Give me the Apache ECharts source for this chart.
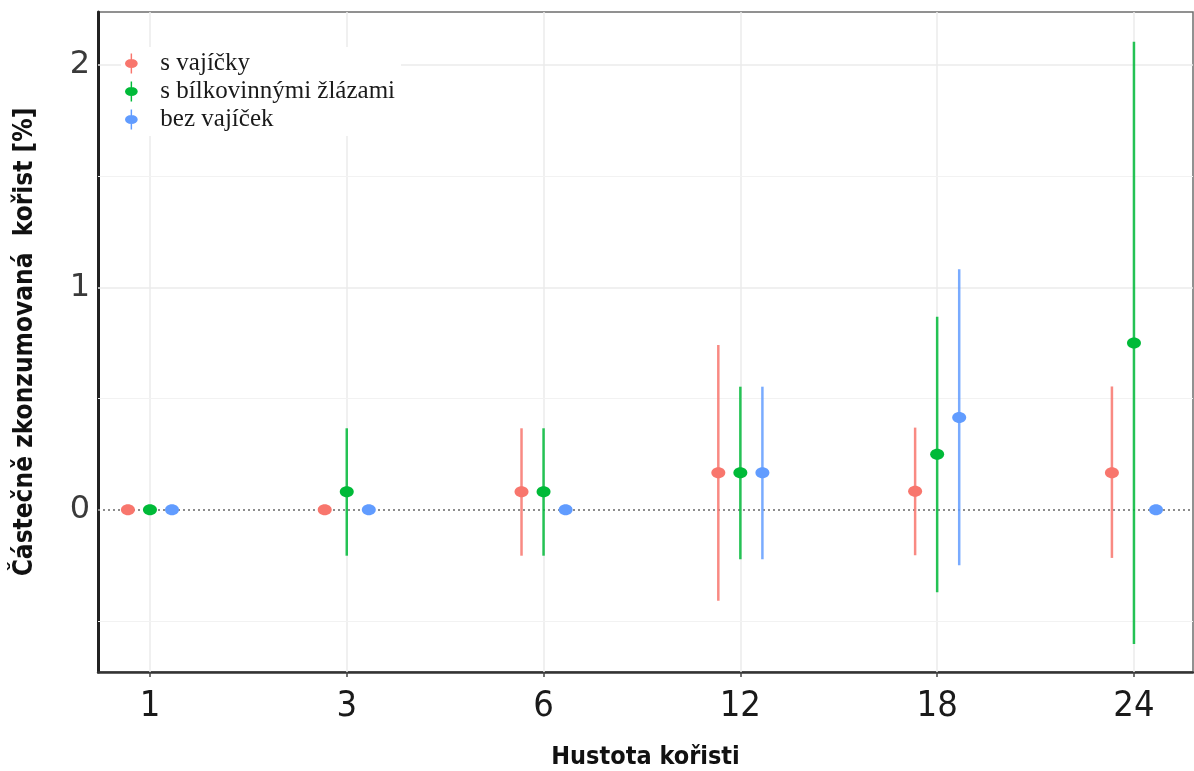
<!DOCTYPE html>
<html>
<head>
<meta charset="utf-8">
<script src="https://cdn.jsdelivr.net/npm/echarts@6/dist/echarts.min.js"></script>
<style>
  html, body { margin: 0; padding: 0; background: #fff; }
  #chart { width: 1194px; height: 771px; }
</style>
</head>
<body>
<div id="chart"></div>
<script>
// hustota koristi (kategorie na ose x)
const categories = ['1', '3', '6', '12', '18', '24'];
const groupNames = ['s vajíčky', 's bílkovinnými žlázami', 'bez vajíček'];
const groupColors = ['#F8766D', '#00BA38', '#619CFF'];

// odhad + interval (null = bez intervalu)
const vajickyMean = [0, 0, 0.081, 0.166, 0.083, 0.166];
const vajickyLow  = [null, null, -0.207, -0.41, -0.205, -0.217];
const vajickyHigh = [null, null, 0.366, 0.741, 0.369, 0.554];

const zlazyMean = [0, 0.081, 0.081, 0.166, 0.249, 0.75];
const zlazyLow  = [null, -0.207, -0.207, -0.223, -0.371, -0.604];
const zlazyHigh = [null, 0.366, 0.366, 0.553, 0.868, 2.104];

const bezMean = [0, 0, 0, 0.166, 0.415, 0];
const bezLow  = [null, null, null, -0.223, -0.25, null];
const bezHigh = [null, null, null, 0.553, 1.081, null];

const yLabels = [0, 1, 2];
const yMinorGrid = [-0.5, 0.5, 1.5];

const dodge = 0.112;

function buildData(mean, low, high, k) {
    return mean.map((m, i) => {
        const lo = low[i] == null ? m : low[i];
        const hi = high[i] == null ? m : high[i];
        return [i + 1 + (k - 1) * dodge, m, lo, hi];
    });
}

function makeRender(color) {
    return function (params, api) {
        const x = api.value(0);
        const c = api.coord([x, api.value(1)]);
        const lo = api.value(2), hi = api.value(3);
        const children = [];
        if (hi > lo) {
            const p1 = api.coord([x, lo]);
            const p2 = api.coord([x, hi]);
            children.push({
                type: 'line',
                shape: {x1: p1[0], y1: p1[1], x2: p2[0], y2: p2[1]},
                style: {stroke: color, lineWidth: 2.5, opacity: 0.85}
            });
        }
        children.push({
            type: 'ellipse',
            shape: {cx: c[0], cy: c[1], rx: 7, ry: 5.5},
            style: {fill: color}
        });
        return {type: 'group', children: children};
    };
}

const allSets = [
    [vajickyMean, vajickyLow, vajickyHigh],
    [zlazyMean, zlazyLow, zlazyHigh],
    [bezMean, bezLow, bezHigh]
];

const legendIcon = 'path://M6.2,0 H7.8 V7 H6.2 Z M6.2,15 H7.8 V22 H6.2 Z M0,11 A7,5 0 1,1 14,11 A7,5 0 1,1 0,11 Z';

const series = allSets.map((s, k) => ({
    name: groupNames[k],
    type: 'custom',
    renderItem: makeRender(groupColors[k]),
    itemStyle: {color: groupColors[k]},
    encode: {x: 0, y: 1},
    data: buildData(s[0], s[1], s[2], k),
    z: 10
}));

// mrizka + nulova linie
series.unshift({
    type: 'line',
    data: [],
    silent: true,
    markLine: {
        silent: true,
        symbol: 'none',
        label: {show: false},
        animation: false,
        data: categories.map((c, i) => ({xAxis: i + 1, lineStyle: {color: '#ebebeb', width: 1.5, type: 'solid'}}))
            .concat(yMinorGrid.map(v => ({yAxis: v, lineStyle: {color: '#f2f2f2', width: 1.2, type: 'solid'}})))
            .concat([1, 2].map(v => ({yAxis: v, lineStyle: {color: '#ebebeb', width: 1.5, type: 'solid'}})))
            .concat([{yAxis: 0, lineStyle: {color: '#8c8c8c', width: 2, type: [2, 3]}}])
    }
});

let option = {
    animation: false,
    backgroundColor: '#fff',
    grid: {
        left: 98, right: 1, top: 12, bottom: 99,
        outerBoundsMode: 'none',
        show: true,
        borderColor: '#6e6e6e',
        borderWidth: 1.5
    },
    legend: {
        data: groupNames.map(n => ({name: n, icon: legendIcon})),
        orient: 'vertical',
        left: 121,
        top: 47,
        padding: [4, 6, 4, 4],
        backgroundColor: '#fff',
        itemWidth: 14,
        itemHeight: 20,
        itemGap: 3,
        z: 20,
        textStyle: {
            fontFamily: 'Liberation Serif',
            fontSize: 25,
            color: '#1a1a1a',
            padding: [0, 0, 0, 17]
        }
    },
    xAxis: {
        type: 'value',
        min: 0.736,
        max: 6.3,
        name: 'Hustota kořisti',
        nameLocation: 'middle',
        nameGap: 73,
        nameTextStyle: {
            fontFamily: 'Liberation Sans Narrow, DejaVu Sans Condensed, sans-serif',
            fontWeight: 'bold',
            fontSize: 25,
            color: '#111'
        },
        axisLine: {show: true, onZero: false, lineStyle: {color: '#333', width: 2.5}},
        axisTick: {show: true, customValues: [1, 2, 3, 4, 5, 6], length: 5, lineStyle: {color: '#444', width: 1.5}},
        axisLabel: {
            customValues: [1, 2, 3, 4, 5, 6],
            formatter: v => categories[Math.round(v) - 1],
            margin: 17,
            fontFamily: 'Liberation Sans Narrow, DejaVu Sans Condensed, sans-serif',
            fontSize: 36,
            color: '#1a1a1a'
        },
        splitLine: {show: false}
    },
    yAxis: {
        type: 'value',
        min: -0.73,
        max: 2.238,
        name: 'Částečně zkonzumovaná  kořist [%]',
        nameLocation: 'middle',
        nameGap: 60,
        nameTextStyle: {
            fontFamily: 'Liberation Sans Narrow, DejaVu Sans Condensed, sans-serif',
            fontWeight: 'bold',
            fontSize: 26,
            color: '#111'
        },
        axisLine: {show: true, onZero: false, lineStyle: {color: '#222', width: 3}},
        axisTick: {show: false},
        axisLabel: {
            customValues: yLabels,
            margin: 8,
            fontFamily: 'DejaVu Sans, sans-serif',
            fontSize: 32,
            color: '#3a3a3a'
        },
        splitLine: {show: false}
    },
    series: series
};

let chartDom = document.getElementById('chart');
let myChart = echarts.init(chartDom);
myChart.setOption(option);
window.addEventListener('resize', () => {
    myChart.resize();
});
</script>
</body>
</html>
